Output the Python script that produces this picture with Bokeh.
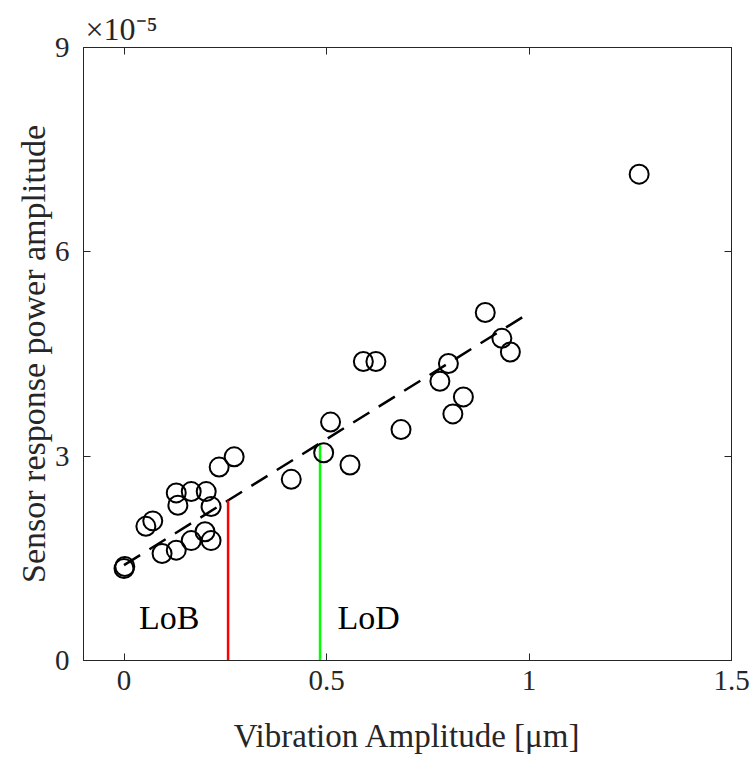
from bokeh.plotting import figure
from bokeh.models import Label, LinearAxis, FixedTicker, Range1d, Title
from bokeh.embed import file_html
from bokeh.resources import INLINE

# Data (y values in units of 1e-5)
amp_um = [0.000, 0.002, 0.054, 0.071, 0.094, 0.129, 0.166, 0.200, 0.215,
          0.129, 0.133, 0.166, 0.203, 0.215, 0.235, 0.272, 0.413, 0.493,
          0.510, 0.558, 0.591, 0.622, 0.684, 0.780, 0.801, 0.812, 0.838,
          0.892, 0.933, 0.954, 1.272]
power_e5 = [1.35, 1.38, 1.97, 2.05, 1.57, 1.62, 1.76, 1.89, 1.76,
            2.46, 2.28, 2.48, 2.48, 2.26, 2.84, 2.99, 2.66, 3.05,
            3.50, 2.87, 4.39, 4.39, 3.39, 4.10, 4.36, 3.62, 3.87,
            5.11, 4.73, 4.53, 7.14]
fit_x = [0.0, 1.0]
fit_y = [1.40, 5.10]
lob_x = 0.257
lod_x = 0.484
x_ticks = [0, 0.5, 1, 1.5]
y_ticks = [0, 3, 6, 9]

FONT = "Liberation Serif"
AX = "#262626"

p = figure(width=750, height=757, x_range=Range1d(-0.1, 1.5), y_range=Range1d(0, 9),
           output_backend="svg", toolbar_location=None,
           min_border_left=83, min_border_right=19, min_border_top=47, min_border_bottom=97)
p.grid.visible = False
p.outline_line_color = AX
p.outline_line_width = 1

def style_axis(ax, labels=True):
    ax.axis_line_color = AX
    ax.major_tick_line_color = AX
    ax.major_tick_in = 7
    ax.major_tick_out = 0
    ax.minor_tick_line_color = None
    ax.major_label_text_font = FONT
    if labels:
        ax.major_label_text_color = AX
        ax.major_label_text_font_size = "29px"
    else:
        ax.major_label_text_color = None
        ax.major_label_text_font_size = "2px"
        ax.major_label_standoff = 0

p.xaxis.ticker = FixedTicker(ticks=x_ticks)
p.yaxis.ticker = FixedTicker(ticks=y_ticks)
style_axis(p.xaxis[0])
style_axis(p.yaxis[0])
p.xaxis.major_label_standoff = 10
p.yaxis.major_label_standoff = 14
p.xaxis.axis_label = "Vibration Amplitude [μm]"
p.yaxis.axis_label = "Sensor response power amplitude"
for ax in (p.xaxis[0], p.yaxis[0]):
    ax.axis_label_text_font = FONT
    ax.axis_label_text_font_style = "normal"
    ax.axis_label_text_color = AX
p.xaxis.axis_label_text_font_size = "33px"
p.yaxis.axis_label_text_font_size = "34px"
p.xaxis.axis_label_standoff = 25
p.yaxis.axis_label_standoff = 0

top = LinearAxis(ticker=FixedTicker(ticks=x_ticks))
right = LinearAxis(ticker=FixedTicker(ticks=y_ticks))
style_axis(top, labels=False)
style_axis(right, labels=False)
p.add_layout(top, "above")
p.add_layout(right, "right")

# exponent marker as a title above the frame (outside the top axis)
p.add_layout(Title(text="×10⁻⁵", text_font=FONT, text_font_size="32px",
                   text_font_style="normal", text_color=AX, align="left",
                   offset=2, standoff=2), "above")

# fit line
p.line(fit_x, fit_y, line_color="black", line_width=2.5, line_dash="19 11")

def fit_at(x):
    return fit_y[0] + (fit_y[1] - fit_y[0]) * (x - fit_x[0]) / (fit_x[1] - fit_x[0])

p.segment(x0=[lob_x], y0=[0], x1=[lob_x], y1=[fit_at(lob_x)], line_color="#ff0000", line_width=2.5)
p.segment(x0=[lod_x], y0=[0], x1=[lod_x], y1=[fit_at(lod_x)], line_color="#00ff00", line_width=2.5)

p.scatter(amp_um, power_e5, marker="circle", size=19, fill_color=None,
          line_color="black", line_width=2)

p.add_layout(Label(x=0.037, y=0.63, text="LoB", text_font=FONT, text_font_size="34px",
                   text_baseline="middle", text_align="left", text_color="black"))
p.add_layout(Label(x=0.527, y=0.63, text="LoD", text_font=FONT, text_font_size="34px",
                   text_baseline="middle", text_align="left", text_color="black"))

open("out.html", "w").write(file_html(p, INLINE))
